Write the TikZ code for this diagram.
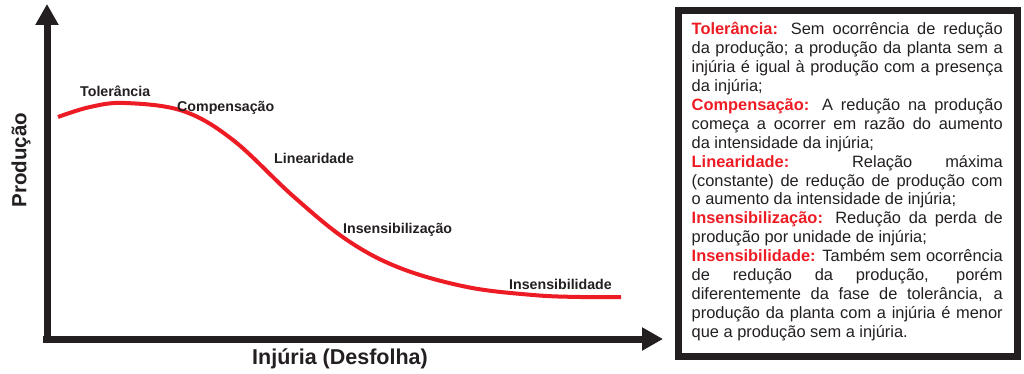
\documentclass[tikz,border=0pt]{standalone}
\usepackage{fontspec}
\setmainfont{Liberation Sans}
\usetikzlibrary{arrows.meta}
\definecolor{ink}{HTML}{231F20}
\definecolor{curvered}{HTML}{ED1C24}
\newcommand{\rl}[1]{\textbf{\textcolor{curvered}{#1}}}
\newcommand{\jl}[1]{{\spaceskip=0.278em plus 20em\xspaceskip=0pt\makebox[311pt][s]{#1}}}
\begin{document}
\begin{tikzpicture}[x=1pt,y=-1pt,
  axis/.style={line width=7pt,ink,-{Triangle[length=21pt,width=22pt]}},
  phase/.style={font=\bfseries\fontsize{14.2}{17}\selectfont,text=ink,inner sep=0pt,anchor=base west},
  axlabel/.style={font=\bfseries\fontsize{20.5}{24}\selectfont,text=ink,inner sep=0pt},
  infobox/.style={draw=ink,line width=6.5pt}]
\useasboundingbox (0,0) rectangle (1024,374);
\coordinate (O) at (47,339);
\coordinate (ytip) at (47,4);
\coordinate (xtip) at (663,339);
\coordinate (ybase) at (47,343);
\coordinate (xbase) at (43,339);
\draw[axis] (ybase) -- (ytip);
\draw[axis] (xbase) -- (xtip);
\node[axlabel,rotate=90] (ylab) at (21,160) {Produção};
\node[axlabel,anchor=base,font=\bfseries\fontsize{21.5}{24}\selectfont] (xlab) at (340,364) {Injúria (Desfolha)};
\draw[curvered,line width=4pt] plot[smooth,tension=0.6] coordinates {(58,117) (90,107) (125,103) (183,111) (233,140) (293,196) (347,240) (400,268) (467,287) (533,295) (580,297) (621,297)};
\node[phase] (tol) at (80,97) {Tolerância};
\node[phase] (comp) at (177,112) {Compensação};
\node[phase] (lin) at (274,164) {Linearidade};
\node[phase] (insz) at (343,233) {Insensibilização};
\node[phase] (insd) at (509,289) {Insensibilidade};
\draw[infobox] (678.5,10.5) rectangle (1017.5,356.5);
\node[anchor=north west,inner sep=0pt,text width=311pt,text=ink,
  font=\fontsize{16.4}{18.95}\selectfont] (txt) at (691.5,22) {%
\spaceskip=0pt\xspaceskip=0pt
\jl{\rl{Tolerância:} Sem ocorrência de redução}\\
\jl{da produção; a produção da planta sem a}\\
\jl{injúria é igual à produção com a presença}\\
da injúria;\\
\jl{\rl{Compensação:} A redução na produção}\\
\jl{começa a ocorrer em razão do aumento}\\
da intensidade da injúria;\\
\jl{\rl{Linearidade:} Relação máxima}\\
\jl{(constante) de redução de produção com}\\
o aumento da intensidade de injúria;\\
\jl{\rl{Insensibilização:} Redução da perda de}\\
produção por unidade de injúria;\\
\jl{\rl{Insensibilidade:} Também sem ocorrência}\\
\jl{de redução da produção, porém}\\
\jl{diferentemente da fase de tolerância, a}\\
\jl{produção da planta com a injúria é menor}\\
que a produção sem a injúria.};
\end{tikzpicture}
\end{document}
